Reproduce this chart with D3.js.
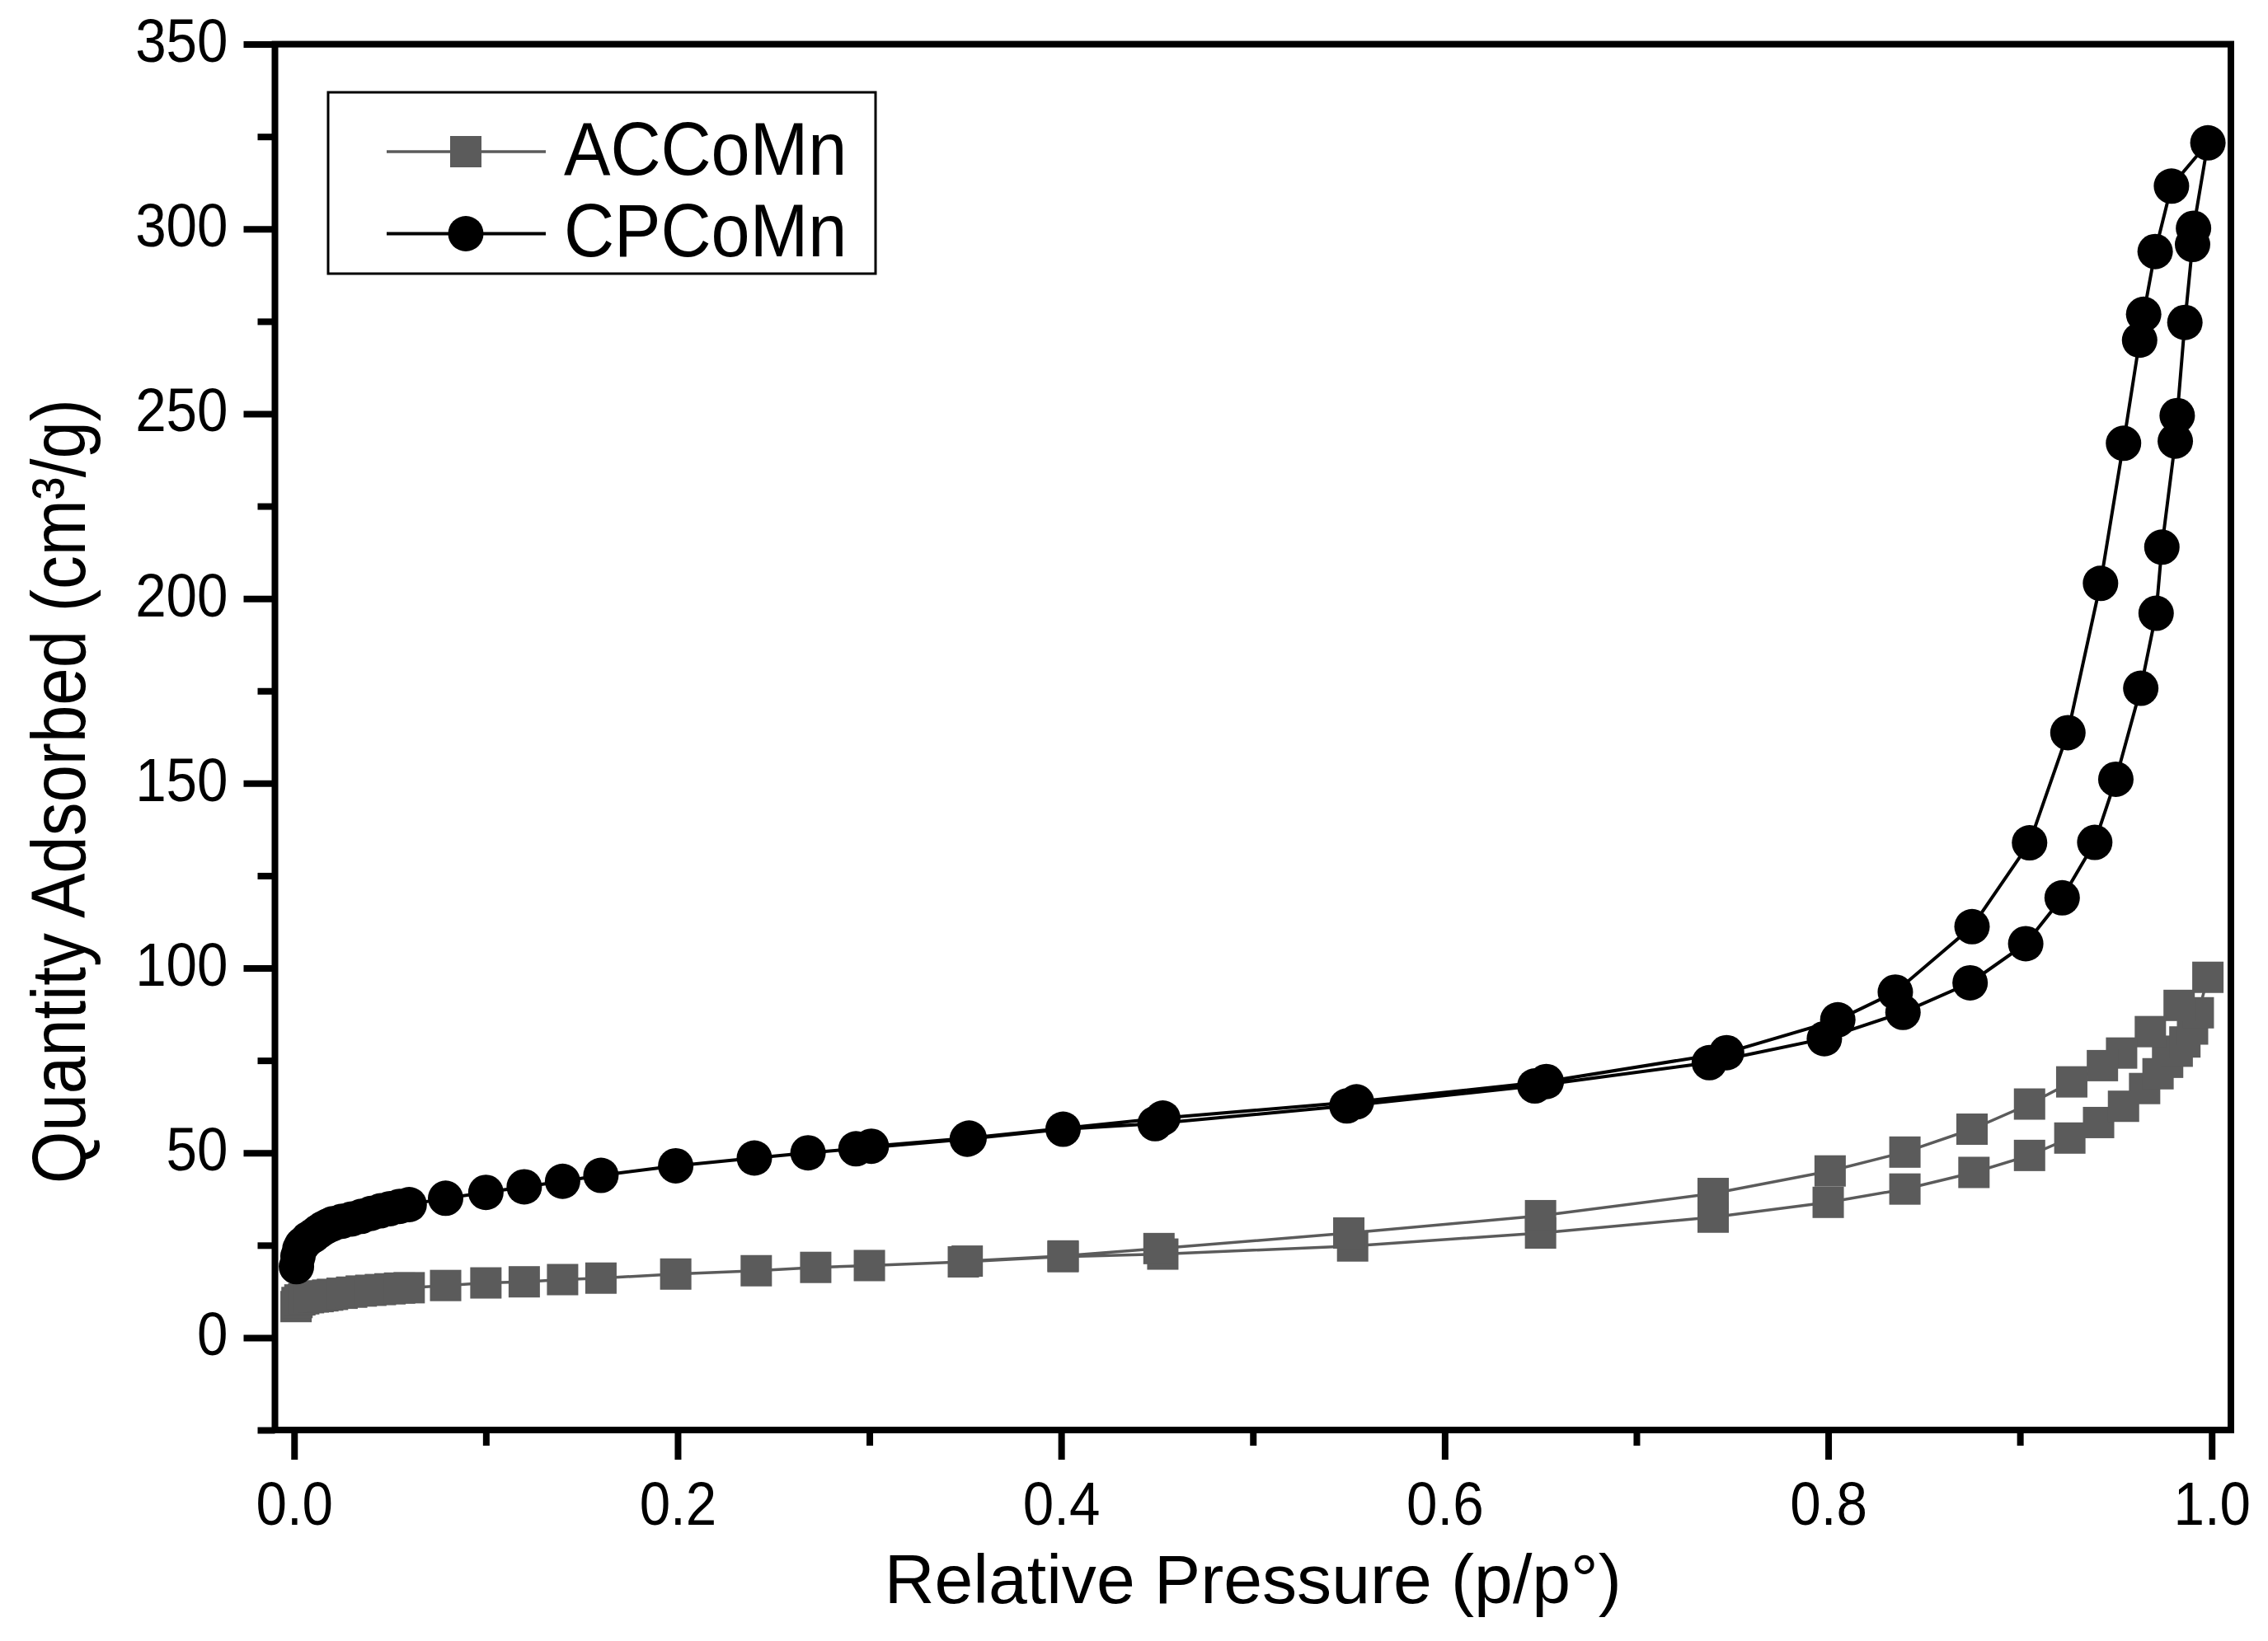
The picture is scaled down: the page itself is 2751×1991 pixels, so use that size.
<!DOCTYPE html>
<html>
<head>
<meta charset="utf-8">
<script src="https://cdn.jsdelivr.net/npm/d3@7"></script>
<style>
  body { margin: 0; background: #fff; }
  text { font-family: "Liberation Sans", Arial, sans-serif; fill: #000; }
</style>
</head>
<body>
<div id="chart"></div>
<script>
// ACCoMn isotherm: adsorption (rising) then desorption (falling)
const acPressure = [0.001, 0.0015, 0.003, 0.005, 0.0075, 0.010, 0.0125, 0.015, 0.0175, 0.020,
    0.025, 0.030, 0.035, 0.040, 0.045, 0.050, 0.055, 0.060, 0.079, 0.100, 0.120, 0.140, 0.160,
    0.199, 0.241, 0.272, 0.300, 0.349, 0.401, 0.453, 0.552, 0.650, 0.740, 0.800, 0.840, 0.876,
    0.905, 0.926, 0.941, 0.954, 0.965, 0.972, 0.977, 0.982, 0.986, 0.990, 0.993, 0.998,
    0.983, 0.968, 0.953, 0.943, 0.927, 0.905, 0.875, 0.840, 0.801, 0.740, 0.650, 0.550,
    0.451, 0.401, 0.351];
const acQuantity = [8.4, 9.5, 10.2, 10.5, 10.8, 11.0, 11.1, 11.3, 11.5, 11.7,
    12.0, 12.3, 12.6, 12.8, 13.0, 13.2, 13.4, 13.5, 14.1, 14.8, 15.1, 15.7, 16.1,
    17.2, 18.1, 19.0, 19.5, 20.5, 21.9, 22.6, 24.8, 28.3, 32.6, 36.6, 40.2, 44.7,
    49.3, 54.0, 58.2, 62.6, 67.4, 71.4, 74.5, 77.5, 80.0, 83.5, 87.9, 97.5,
    89.9, 82.8, 77.0, 73.6, 69.2, 63.2, 56.4, 50.2, 45.1, 39.0, 33.0, 28.3,
    24.1, 22.1, 20.7];

// CPCoMn isotherm: adsorption (rising) then desorption (falling)
const cpPressure = [0.0012, 0.002, 0.003, 0.004, 0.005, 0.0075, 0.010, 0.0125, 0.015, 0.0175,
    0.020, 0.025, 0.030, 0.035, 0.040, 0.045, 0.050, 0.055, 0.060, 0.079, 0.100, 0.120, 0.140,
    0.160, 0.199, 0.240, 0.268, 0.293, 0.351, 0.401, 0.449, 0.549, 0.647, 0.738, 0.798, 0.839,
    0.874, 0.903, 0.922, 0.939, 0.950, 0.963, 0.971, 0.974, 0.981, 0.982, 0.986, 0.990, 0.9905,
    0.998,
    0.979, 0.9705, 0.9645, 0.9624, 0.954, 0.942, 0.925, 0.905, 0.875, 0.835, 0.805, 0.747,
    0.653, 0.554, 0.453, 0.352, 0.301];
const cpQuantity = [19.2, 22.0, 24.0, 25.0, 25.5, 26.8, 27.6, 28.6, 29.5, 30.2,
    30.8, 31.5, 32.1, 32.8, 33.6, 34.3, 34.9, 35.5, 36.0, 37.7, 39.3, 40.8, 42.3,
    43.9, 46.5, 48.6, 50.0, 51.1, 53.7, 56.4, 57.9, 62.7, 68.1, 74.4, 80.9, 88.0,
    96.0, 106.6, 119.0, 134.0, 151.1, 175.7, 196.0, 213.9, 242.6, 249.5, 274.7, 295.8, 300.2,
    323.3,
    311.6, 293.9, 276.9, 269.9, 242.0, 204.1, 163.7, 133.9, 111.2, 93.5, 86.0, 77.1,
    69.3, 63.8, 59.4, 54.0, 51.8];

const seriesNames = ["ACCoMn", "CPCoMn"];
const xMajorTicks = [0, 0.2, 0.4, 0.6, 0.8, 1.0];
const xMinorTicks = [0.1, 0.3, 0.5, 0.7, 0.9];
const yMajorTicks = [0, 50, 100, 150, 200, 250, 300, 350];
const yMinorTicks = [-25, 25, 75, 125, 175, 225, 275, 325];

const width = 2751, height = 1991;
const plotLeft = 333.5, plotRight = 2706, plotTop = 53.6, plotBottom = 1735;
const gray = "#5b5b5b";

const svg = d3.select("#chart").append("svg")
    .attr("width", width)
    .attr("height", height);

const x = d3.scaleLinear().domain([-0.01, 1.01]).range([plotLeft, plotRight]);
const y = d3.scaleLinear().domain([-25, 350]).range([plotBottom, plotTop]);

// squeeze text a little horizontally, the original font is semi-condensed
function squeeze(sel, k) {
    sel.each(function () {
        const w = this.getComputedTextLength();
        d3.select(this).attr("textLength", w * k).attr("lengthAdjust", "spacingAndGlyphs");
    });
}

// x axis
const xAxis = svg.append("g")
    .attr("transform", `translate(0,${plotBottom})`)
    .call(d3.axisBottom(x).tickValues(xMajorTicks).tickSize(36).tickPadding(0)
        .tickFormat(d3.format(".1f")));
svg.append("g")
    .attr("transform", `translate(0,${plotBottom})`)
    .call(d3.axisBottom(x).tickValues(xMinorTicks).tickSize(19).tickFormat(""));

// y axis
const yAxis = svg.append("g")
    .attr("transform", `translate(${plotLeft},0)`)
    .call(d3.axisLeft(y).tickValues(yMajorTicks).tickSize(38).tickPadding(19)
        .tickFormat(d3.format("d")));
svg.append("g")
    .attr("transform", `translate(${plotLeft},0)`)
    .call(d3.axisLeft(y).tickValues(yMinorTicks).tickSize(21).tickFormat(""));

svg.selectAll(".domain").remove();
svg.selectAll(".tick line").attr("stroke", "#000").attr("stroke-width", 8);

xAxis.selectAll("text")
    .attr("y", 115).attr("dy", null)
    .attr("font-family", null)
    .style("font-size", "74px");
yAxis.selectAll("text")
    .attr("dy", null).attr("y", 21)
    .attr("font-family", null)
    .style("font-size", "74px");
xAxis.attr("font-family", null).attr("font-size", null);
yAxis.attr("font-family", null).attr("font-size", null);
squeeze(xAxis.selectAll("text"), 0.91);
squeeze(yAxis.selectAll("text"), 0.91);

// frame
svg.append("rect")
    .attr("x", plotLeft).attr("y", plotTop)
    .attr("width", plotRight - plotLeft).attr("height", plotBottom - plotTop)
    .attr("fill", "none").attr("stroke", "#000").attr("stroke-width", 8);

// axis titles
const xTitle = svg.append("text")
    .attr("x", (plotLeft + plotRight) / 2).attr("y", 1945)
    .attr("text-anchor", "middle")
    .style("font-size", "84px")
    .text("Relative Pressure (p/p°)");
const yTitle = svg.append("text")
    .attr("transform", "translate(103,960) rotate(-90)")
    .attr("text-anchor", "middle")
    .style("font-size", "92px")
    .text("Quantity Adsorbed (cm³/g)");
yTitle.attr("textLength", 952).attr("lengthAdjust", "spacingAndGlyphs");
xTitle.attr("textLength", 894).attr("lengthAdjust", "spacingAndGlyphs");

// data
const acData = acPressure.map((p, i) => ({ p: p, q: acQuantity[i] }));
const cpData = cpPressure.map((p, i) => ({ p: p, q: cpQuantity[i] }));

const line = d3.line().x(d => x(d.p)).y(d => y(d.q));

const plot = svg.append("g");

plot.append("path")
    .datum(acData)
    .attr("fill", "none")
    .attr("stroke", gray)
    .attr("stroke-width", 3.5)
    .attr("d", line);
plot.append("g")
    .selectAll("rect")
    .data(acData)
    .join("rect")
    .attr("x", d => x(d.p) - 19)
    .attr("y", d => y(d.q) - 19)
    .attr("width", 38)
    .attr("height", 38)
    .attr("fill", gray);

plot.append("path")
    .datum(cpData)
    .attr("fill", "none")
    .attr("stroke", "#000")
    .attr("stroke-width", 4)
    .attr("d", line);
plot.append("g")
    .selectAll("circle")
    .data(cpData)
    .join("circle")
    .attr("cx", d => x(d.p))
    .attr("cy", d => y(d.q))
    .attr("r", 21.5)
    .attr("fill", "#000");

// legend
const legend = svg.append("g");
legend.append("rect")
    .attr("x", 398).attr("y", 112)
    .attr("width", 664).attr("height", 220)
    .attr("fill", "#fff").attr("stroke", "#000").attr("stroke-width", 3);

const rows = [
    { name: seriesNames[0], color: gray, cy: 184, base: 212 },
    { name: seriesNames[1], color: "#000", cy: 283.5, base: 311 }
];
rows.forEach((r, i) => {
    legend.append("line")
        .attr("x1", 469).attr("x2", 662)
        .attr("y1", r.cy).attr("y2", r.cy)
        .attr("stroke", r.color).attr("stroke-width", i === 0 ? 3.5 : 4);
    if (i === 0) {
        legend.append("rect")
            .attr("x", 565 - 19).attr("y", r.cy - 19)
            .attr("width", 38).attr("height", 38)
            .attr("fill", gray);
    } else {
        legend.append("circle")
            .attr("cx", 565).attr("cy", r.cy).attr("r", 21.5)
            .attr("fill", "#000");
    }
    const t = legend.append("text")
        .attr("x", 684).attr("y", r.base)
        .style("font-size", "90px")
        .text(r.name);
    squeeze(t, 0.94);
});
</script>
</body>
</html>
